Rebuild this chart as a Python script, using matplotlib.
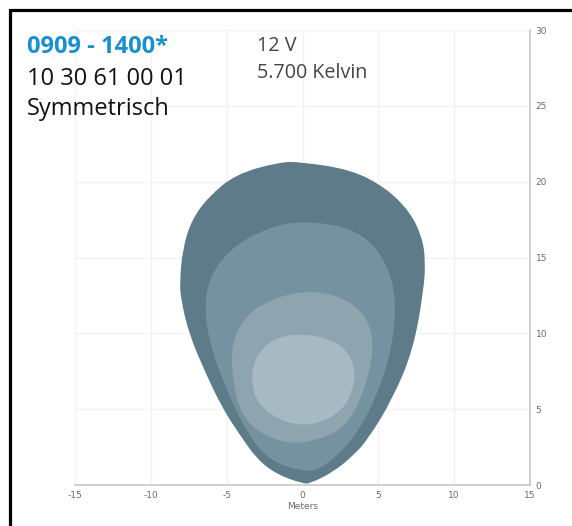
import numpy as np
import matplotlib
matplotlib.use('Agg')
import matplotlib.pyplot as plt
from matplotlib.path import Path
from matplotlib.patches import PathPatch
from matplotlib.lines import Line2D

# light distribution contours (meters)
outer_x = [-0.1, 3.2, 5.5, 7.1, 7.9, 8.1, 8.0, 7.3, 5.9, 4.3, 3.4, 2.1, 0.5, 0.0,
           -1.7, -3.0, -4.2, -5.3, -6.4, -7.5, -8.0, -8.1, -7.9, -7.3, -6.2, -4.4, -1.5]
outer_y = [21.3, 20.8, 19.6, 18.0, 16.3, 14.8, 12.9, 8.9, 5.6, 3.0, 2.0, 0.9, 0.1, 0.1,
           0.7, 1.7, 3.4, 5.1, 7.4, 10.0, 12.2, 13.3, 15.6, 17.5, 19.0, 20.5, 21.3]

mid_x = [-0.1, 2.6, 4.4, 5.6, 6.2, 5.9, 4.8, 3.3, 1.2, 0.0,
         -2.2, -3.7, -5.1, -6.0, -6.5, -6.1, -4.5, -2.2]
mid_y = [17.4, 17.1, 16.2, 14.5, 12.2, 8.9, 5.6, 2.9, 1.0, 0.9,
         1.6, 3.5, 6.5, 8.9, 11.5, 13.9, 15.8, 17.0]

inner_x = [0.0, 2.8, 4.4, 4.7, 4.1, 2.8, 0.7, -0.8, -2.9, -4.1, -4.6, -4.7, -4.2, -2.9]
inner_y = [12.9, 12.4, 10.9, 8.9, 6.2, 3.7, 2.9, 2.7, 3.4, 4.8, 6.9, 8.9, 10.5, 11.9]

core_x = [0.0, 2.3, 3.3, 3.5, 2.9, 1.5, 0.0, -1.6, -3.0, -3.4, -3.1, -1.9]
core_y = [10.0, 9.5, 8.3, 6.9, 5.2, 4.2, 3.9, 4.3, 5.4, 6.9, 8.5, 9.7]

x_ticks = [-15, -10, -5, 0, 5, 10, 15]
y_ticks = [0, 5, 10, 15, 20, 25, 30]


def smooth_patch(xs, ys, color):
    # closed quadratic-bezier path with the read points as control points
    pts = np.column_stack([xs, ys])
    mids = (pts + np.roll(pts, -1, axis=0)) / 2
    verts = [mids[-1]]
    codes = [Path.MOVETO]
    for i in range(len(pts)):
        verts += [pts[i], mids[i]]
        codes += [Path.CURVE3, Path.CURVE3]
    return PathPatch(Path(verts, codes), facecolor=color, edgecolor='none', zorder=2)


fig = plt.figure(figsize=(5.72, 5.26), dpi=100)
ax = fig.add_axes([0.1311, 0.0779, 0.7955, 0.865])

ax.add_patch(smooth_patch(outer_x, outer_y, '#5e7b89'))
ax.add_patch(smooth_patch(mid_x, mid_y, '#7592a0'))
ax.add_patch(smooth_patch(inner_x, inner_y, '#8ea4ae'))
ax.add_patch(smooth_patch(core_x, core_y, '#a7b9c2'))

ax.set_xlim(-15, 15)
ax.set_ylim(0, 30)
ax.set_xticks(x_ticks)
ax.set_yticks(y_ticks)
ax.set_xticklabels([str(t) for t in x_ticks])
ax.yaxis.tick_right()
ax.grid(True, color='#f2f2f2', linewidth=1.0, zorder=0)
ax.set_axisbelow(True)
for s in ['left', 'top']:
    ax.spines[s].set_visible(False)
for s in ['bottom', 'right']:
    ax.spines[s].set_color('#c8c8c8')
    ax.spines[s].set_linewidth(1.2)
ax.tick_params(length=0, labelsize=6.5, labelcolor='#6a6a6a', pad=4)
ax.set_xlabel('Meters', fontsize=6.5, color='#6a6a6a', labelpad=2)

# header texts
fig.text(27 / 572, 1 - 47 / 526, '0909 - 1400*', family='Open Sans', fontsize=17,
         fontweight='bold', color='#1a8fd0', va='center', ha='left')
fig.text(27 / 572, 1 - 79 / 526, '10 30 61 00 01', family='Open Sans', fontsize=17,
         color='#111111', va='center', ha='left')
fig.text(27 / 572, 1 - 109 / 526, 'Symmetrisch', family='Open Sans', fontsize=17,
         color='#111111', va='center', ha='left')
fig.text(257 / 572, 1 - 46 / 526, '12 V', family='Open Sans', fontsize=14.2,
         color='#444444', va='center', ha='left')
fig.text(257 / 572, 1 - 73 / 526, '5.700 Kelvin', family='Open Sans', fontsize=14.2,
         color='#444444', va='center', ha='left')

# black frame (left and top)
fig.add_artist(Line2D([9.5 / 572, 9.5 / 572, 1.0], [0.0, 1 - 9.5 / 526, 1 - 9.5 / 526],
                      transform=fig.transFigure, color='black', linewidth=2.3,
                      solid_joinstyle='miter'))

fig.savefig('out.png', dpi=100)
